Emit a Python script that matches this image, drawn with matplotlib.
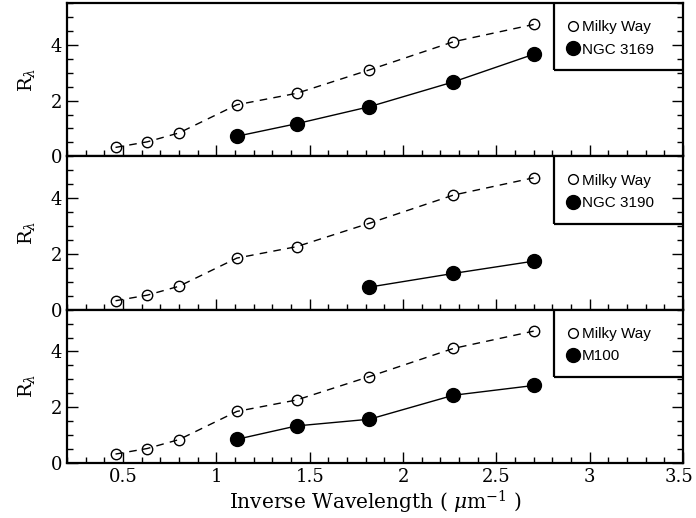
import matplotlib
matplotlib.use("Agg")
import matplotlib.pyplot as plt
from matplotlib.lines import Line2D
from matplotlib.patches import Rectangle
from matplotlib.ticker import MultipleLocator
from matplotlib.transforms import ScaledTranslation

# ---- data ----
mw_x = [0.46, 0.63, 0.80, 1.11, 1.43, 1.82, 2.27, 2.70]
mw_y = [0.32, 0.52, 0.84, 1.85, 2.26, 3.10, 4.11, 4.73]

ngc3169_x = [1.11, 1.43, 1.82, 2.27, 2.70]
ngc3169_y = [0.72, 1.17, 1.78, 2.67, 3.66]

ngc3190_x = [1.82, 2.27, 2.70]
ngc3190_y = [0.81, 1.30, 1.74]

m100_x = [1.11, 1.43, 1.82, 2.27, 2.70]
m100_y = [0.85, 1.33, 1.57, 2.43, 2.78]

galaxy_names = ["NGC 3169", "NGC 3190", "M100"]
galaxy_x = [ngc3169_x, ngc3190_x, m100_x]
galaxy_y = [ngc3169_y, ngc3190_y, m100_y]
mw_label = "Milky Way"

x_ticks = [0.5, 1, 1.5, 2, 2.5, 3, 3.5]
x_ticklabels = ["0.5", "1", "1.5", "2", "2.5", "3", "3.5"]
y_ticks = [0, 2, 4]
y_ticklabels = ["0", "2", "4"]

plt.rcParams['font.family'] = ['DejaVu Serif']
plt.rcParams['mathtext.fontset'] = 'dejavuserif'

fig = plt.figure(figsize=(6.96, 5.18), dpi=100)
left, right = 67 / 696, 683 / 696
bottom, top = 1 - 463 / 518, 1 - 3 / 518
h = (top - bottom) / 3

for i in range(3):
    ax = fig.add_axes([left, top - (i + 1) * h, right - left, h])
    ax.plot(mw_x, mw_y, ls=(0, (5.5, 4.5)), color='k', lw=1.0,
            marker='o', ms=7.5, mfc='none', mec='k', mew=1.0, zorder=3)
    ax.plot(galaxy_x[i], galaxy_y[i], ls='-', color='k', lw=1.0,
            marker='o', ms=10, mfc='k', mec='k', zorder=4)
    ax.set_xlim(0.2, 3.5)
    ax.set_ylim(0, 5.5)
    ax.xaxis.set_major_locator(MultipleLocator(0.5))
    ax.xaxis.set_minor_locator(MultipleLocator(0.1))
    ax.set_yticks(y_ticks)
    ax.yaxis.set_minor_locator(MultipleLocator(0.5))
    ax.tick_params(which='both', direction='in', top=False, right=True,
                   width=1.0, labelsize=13, colors='k')
    ax.tick_params(which='major', length=8)
    ax.tick_params(which='minor', length=4)
    ax.set_yticklabels(y_ticklabels)
    for s in ax.spines.values():
        s.set_linewidth(1.6)
    if i < 2:
        ax.tick_params(labelbottom=False)
    else:
        ax.set_xticks(x_ticks)
        ax.set_xticklabels(x_ticklabels)
        lab = ax.xaxis.get_majorticklabels()[-1]
        lab.set_transform(lab.get_transform() +
                          ScaledTranslation(-3 / 72, 0, fig.dpi_scale_trans))
        ax.set_xlabel(r"Inverse Wavelength ( $\mu$m$^{-1}$ )", fontsize=14.5, labelpad=2)
    ax.set_ylabel(r"R$_\lambda$", fontsize=14, labelpad=10)

    # legend box
    ax.add_patch(Rectangle((0.791, 0.56), 0.25, 0.5, transform=ax.transAxes,
                           fill=False, ec='k', lw=1.6, clip_on=True, zorder=5))
    handles = [Line2D([], [], ls='none', marker='o', ms=7, mfc='none', mec='k', mew=1.0),
               Line2D([], [], ls='none', marker='o', ms=10, mfc='k', mec='k')]
    leg = ax.legend(handles, [mw_label, galaxy_names[i]], loc='upper left',
                    bbox_to_anchor=(0.813, 0.887), frameon=False, handlelength=0.7,
                    handletextpad=0.2, borderpad=0, borderaxespad=0, labelspacing=0.55,
                    prop={'family': 'Liberation Sans', 'size': 11})

fig.savefig("out.png", dpi=100)
